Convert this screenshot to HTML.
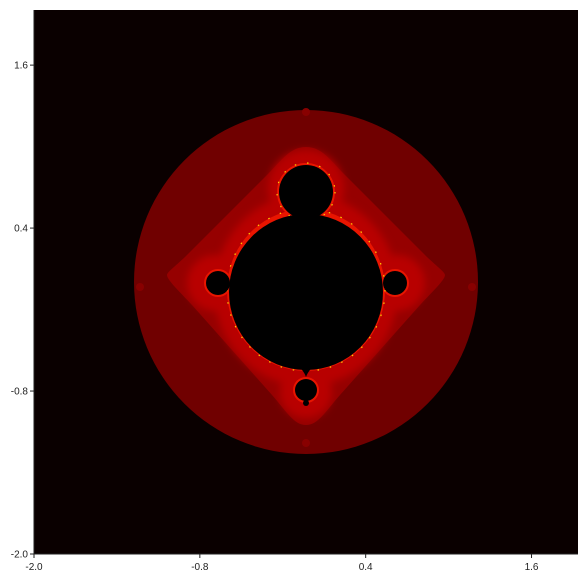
<!DOCTYPE html>
<html><head><meta charset="utf-8">
<style>
html,body{margin:0;padding:0;background:#fff;width:587px;height:578px;overflow:hidden}
svg{display:block;font-family:"Liberation Sans",sans-serif}
</style></head>
<body>
<svg id="chart" width="587" height="578" viewBox="0 0 587 578">
<defs>
<filter id="blur2" x="-20%" y="-20%" width="140%" height="140%"><feGaussianBlur stdDeviation="4"/></filter>
</defs>
<rect x="34" y="10" width="544" height="544" fill="#0a0000"/>
<g id="fractal">
<circle cx="306" cy="282" r="172" fill="#700000"/>
<circle cx="306" cy="112" r="4" fill="#880000"/>
<circle cx="306" cy="443" r="4" fill="#880000"/>
<circle cx="140" cy="287" r="4" fill="#880000"/>
<circle cx="472" cy="287" r="4" fill="#880000"/>
<path d="M306 147 C322 147 330 160 345 175 L425 255 C435 265 445 272 445 275 C445 280 432 292 420 305 L340 395 C325 412 318 425 306 425 C294 425 287 412 272 395 L192 305 C180 292 167 280 167 275 C167 272 177 265 187 255 L267 175 C282 160 290 147 306 147 Z" fill="#960000"/>
<g filter="url(#blur2)">
<ellipse cx="306" cy="290" rx="92" ry="96" fill="#b80000"/>
<circle cx="306" cy="188" r="38" fill="#b80000"/>
<circle cx="215" cy="283" r="28" fill="#b80000"/>
<circle cx="397" cy="283" r="28" fill="#b80000"/>
<circle cx="306" cy="392" r="26" fill="#b80000"/>
</g>
<g stroke="#e81500" stroke-width="4" fill="#e81500">
<ellipse cx="306" cy="290" rx="77" ry="79"/>
<circle cx="306" cy="192" r="27"/>
<circle cx="218" cy="283" r="12"/>
<circle cx="395" cy="283" r="12"/>
<circle cx="306" cy="390" r="11"/>
</g>
<g stroke="#ffd000" stroke-width="1.2" fill="none" stroke-dasharray="1.5 11">
<ellipse cx="306" cy="290" rx="79" ry="81"/>
<circle cx="306" cy="192" r="29"/>
</g>
<g fill="#000">
<ellipse cx="306" cy="292" rx="77" ry="78"/>
<path d="M262 345 Q300 360 306 377 Q312 360 350 345 Z"/>
<circle cx="306" cy="192" r="27"/>
<circle cx="306" cy="176" r="5"/>
<circle cx="218" cy="283" r="12"/>
<circle cx="395" cy="283" r="12"/>
<circle cx="306" cy="390" r="11"/>
<circle cx="306" cy="403" r="3"/>
</g>
</g>
<g id="axes"></g>
</svg>
<script>
const xTickValues = [-2.0, -0.8, 0.4, 1.6];
const yTickValues = [-2.0, -0.8, 0.4, 1.6];
const xTickLabels = ["-2.0", "-0.8", "0.4", "1.6"];
const yTickLabels = ["-2.0", "-0.8", "0.4", "1.6"];
const NS = "http://www.w3.org/2000/svg";
function xScale(v){ return 34 + (v + 2) * 138.2; }
function yScale(v){ return 554 - (v + 2) * 135.8; }
const axes = document.getElementById('axes');
function mk(tag, attrs){ const e = document.createElementNS(NS, tag); for (const k in attrs) e.setAttribute(k, attrs[k]); axes.appendChild(e); return e; }
const xl = mk('line', {x1:34, y1:554, x2:578, y2:554, stroke:'#222', 'stroke-width':1});


const yl = mk('line', {x1:34, y1:10, x2:34, y2:554, stroke:'#222', 'stroke-width':1});


xTickValues.forEach((v, i) => {
  const x = xScale(v);
  const t = mk('line', {x1:x, y1:554, x2:x, y2:558, stroke:'#222'});
  
  
  const l = mk('text', {x:x, y:570, 'font-size':10, 'text-anchor':'middle', fill:'#222'});
  l.textContent = xTickLabels[i];
  
  
});
yTickValues.forEach((v, i) => {
  const y = yScale(v);
  const t = mk('line', {x1:30, y1:y, x2:34, y2:y, stroke:'#222'});
  
  
  const l = mk('text', {x:28, y:y + 3.5, 'font-size':10, 'text-anchor':'end', fill:'#222'});
  l.textContent = yTickLabels[i];
  
  
});
</script>
</body></html>
